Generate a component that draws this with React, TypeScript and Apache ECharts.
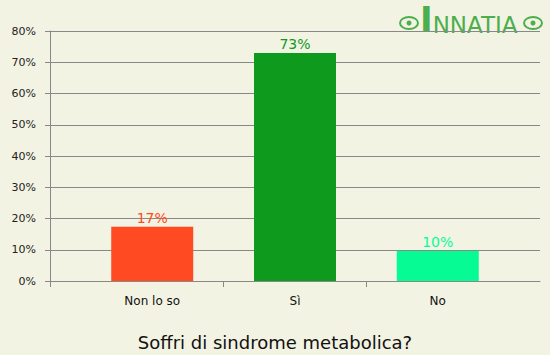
import React, { useEffect, useRef } from "react";
import * as echarts from "echarts";

const categories = ["Non lo so", "Sì", "No"];
const values = [17.4, 73.0, 9.6];
const labels = ["17%", "73%", "10%"];
const barColors = ["#FF4A22", "#0D9A1D", "#07FB95"];
const yTicks = [0, 10, 20, 30, 40, 50, 60, 70, 80];
const title = "Soffri di sindrome metabolica?";

export default function App() {
  const ref = useRef<HTMLDivElement>(null);
  useEffect(() => {
    document.body.style.margin = "0";
    const chart = echarts.init(ref.current!, null, { renderer: "svg" });
    const pad = 0.716;
    const font = "DejaVu Sans, Verdana, sans-serif";
    const logoGreen = "#4DAE4D";
    chart.setOption({
      animation: false,
      backgroundColor: "#F3F3E3",
      title: {
        text: title,
        left: "center",
        top: 328,
        textStyle: { fontFamily: font, fontSize: 18, fontWeight: "normal", color: "#111" },
      },
      grid: { left: 50, right: 10, top: 31, bottom: 74 },
      xAxis: {
        type: "value",
        min: -pad,
        max: categories.length - 1 + pad,
        axisLine: { show: true, onZero: false, lineStyle: { color: "#888", width: 1 } },
        axisTick: {
          show: true,
          inside: false,
          length: 6,
          lineStyle: { color: "#888" },
          customValues: [-pad, 0.5, 1.5],
        },
        axisLabel: {
          show: true,
          customValues: categories.map((_, i) => i),
          formatter: (v: number) => categories[Math.round(v)] ?? "",
          fontFamily: font,
          fontSize: 12,
          color: "#111",
          margin: 14,
        },
        splitLine: { show: false },
      },
      yAxis: {
        type: "value",
        min: yTicks[0],
        max: yTicks[yTicks.length - 1],
        interval: 10,
        axisLine: { show: true, onZero: false, lineStyle: { color: "#888" } },
        axisTick: { show: true, length: 5, lineStyle: { color: "#888" } },
        axisLabel: {
          formatter: (v: number) => v + "%",
          fontFamily: font,
          fontSize: 11,
          color: "#222",
          margin: 14,
        },
        splitLine: { show: true, lineStyle: { color: "#888", width: 1 } },
      },
      series: [
        {
          type: "bar",
          barWidth: 82,
          data: values.map((v, i) => ({
            value: [i, v],
            itemStyle: { color: barColors[i] },
            label: {
              show: true,
              position: "top",
              distance: 2,
              formatter: labels[i],
              color: barColors[i],
              fontFamily: font,
              fontSize: 14,
            },
          })),
        },
      ],
      graphic: [
        {
          type: "text",
          left: 420,
          top: 2,
          style: {
            text: "{b|I}{s|NNATIA}",
            rich: {
              b: { fontSize: 34, fontWeight: "bold", fontFamily: "DejaVu Sans, sans-serif", fill: logoGreen, verticalAlign: "bottom" },
              s: { fontSize: 23, fontFamily: "DejaVu Sans, sans-serif", fill: logoGreen, verticalAlign: "bottom" },
            },
          },
        },
        {
          type: "ellipse",
          shape: { cx: 409, cy: 23, rx: 9, ry: 6 },
          style: { fill: "none", stroke: logoGreen, lineWidth: 2 },
        },
        {
          type: "circle",
          shape: { cx: 409, cy: 23, r: 2.5 },
          style: { fill: logoGreen },
        },
        {
          type: "ellipse",
          shape: { cx: 533, cy: 23, rx: 9, ry: 6 },
          style: { fill: "none", stroke: logoGreen, lineWidth: 2 },
        },
        {
          type: "circle",
          shape: { cx: 533, cy: 23, r: 2.5 },
          style: { fill: logoGreen },
        },
      ],
    });
    return () => chart.dispose();
  }, []);
  return <div ref={ref} style={{ width: 550, height: 355 }} />;
}
